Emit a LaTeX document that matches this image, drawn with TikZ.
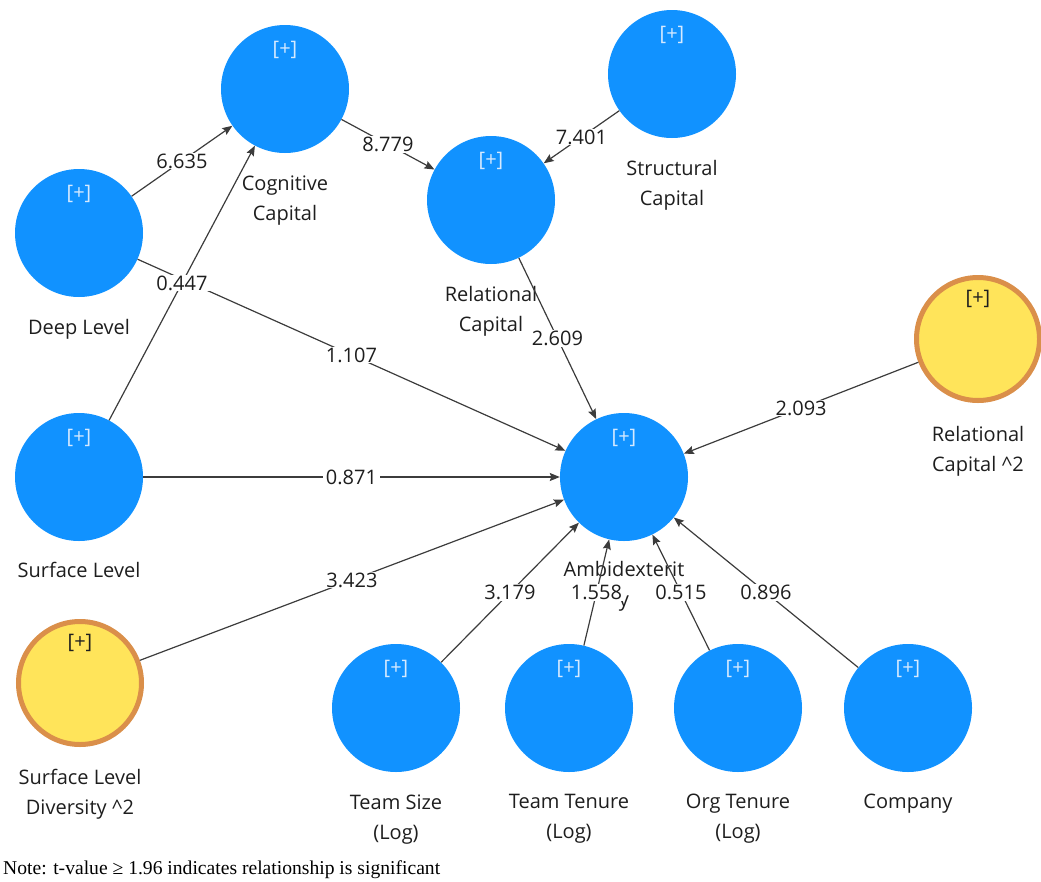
\documentclass[tikz,border=0pt]{standalone}
\usepackage{fontspec}
\setmainfont{Open Sans}
\newfontfamily\notefont{Liberation Serif}
\usetikzlibrary{arrows.meta}
\definecolor{pblue}{HTML}{1192FF}
\definecolor{pyellow}{HTML}{FFE45A}
\definecolor{porange}{HTML}{DA8F4A}
\definecolor{pline}{HTML}{3C3C3C}
\definecolor{ptext}{HTML}{1E1E1E}
\definecolor{pplus}{HTML}{D6EAFF}
\begin{document}
\begin{tikzpicture}[x=1pt,y=-1pt,
  plusb/.style={anchor=center, yshift=-25pt, text=pplus, inner sep=0pt, font=\fontsize{20}{20}\selectfont},
  plusy/.style={anchor=center, yshift=-24pt, text=ptext, inner sep=0pt, font=\fontsize{20}{20}\selectfont},
  lv/.style={circle, fill=pblue, inner sep=0pt, minimum size=128pt, label={[plusb]north:{[+]}}},
  sq/.style={circle, fill=pyellow, draw=porange, line width=5pt, inner sep=0pt, minimum size=123pt, label={[plusy]north:{[+]}}},
  nm/.style={anchor=north, align=center, inner sep=0pt, text=ptext, font=\fontsize{20}{30}\selectfont},
  edge/.style={draw=pline, line width=1.2pt, -{Stealth[length=10pt,width=8pt,inset=1.5pt]}},
  el/.style={fill=white, inner xsep=3pt, inner ysep=1pt, text=ptext, font=\fontsize{20}{20}\selectfont},
  note/.style={anchor=base west, inner sep=0pt, text=black, font=\notefont\fontsize{19.6}{19.6}\selectfont}
]
\useasboundingbox (0,0) rectangle (1041,881);

% constructs
\node[lv] (cog) at (285,89) {};
\node[lv] (str) at (672,74) {};
\node[lv] (rel) at (491,200) {};
\node[lv] (deep) at (79,233) {};
\node[lv] (surf) at (79,477) {};
\node[lv] (amb) at (624,477) {};
\node[sq] (rel2) at (978,339) {};
\node[sq] (sld2) at (80,683) {};
\node[lv] (tsize) at (396,708) {};
\node[lv] (tten) at (569,708) {};
\node[lv] (oten) at (738,708) {};
\node[lv] (comp) at (908,708) {};

% names
\node[nm] (cogl) at ([yshift=-22pt]cog.south) {Cognitive\\Capital};
\node[nm] (strl) at ([yshift=-22pt]str.south) {Structural\\Capital};
\node[nm] (rell) at ([yshift=-22pt]rel.south) {Relational\\Capital};
\node[nm] (deepl) at ([yshift=-22pt]deep.south) {Deep Level};
\node[nm] (surfl) at ([yshift=-21pt]surf.south) {Surface Level};
\node[nm] (ambl) at ([yshift=-20pt]amb.south) {Ambidexterit\\y};
\node[nm] (rel2l) at ([yshift=-23pt]rel2.south) {Relational\\Capital \textasciicircum 2};
\node[nm] (sld2l) at ([yshift=-22pt]sld2.south) {Surface Level\\Diversity \textasciicircum 2};
\node[nm] (tsizel) at ([yshift=-22pt]tsize.south) {Team Size\\(Log)};
\node[nm] (ttenl) at ([yshift=-22pt]tten.south) {Team Tenure\\(Log)};
\node[nm] (otenl) at ([yshift=-22pt]oten.south) {Org Tenure\\(Log)};
\node[nm] (compl) at ([yshift=-22pt]comp.south) {Company};

% paths
\draw[edge] (deep) -- node[el] {6.635} (cog);
\draw[edge] (deep) -- node[el] {1.107} (amb);
\draw[edge] (surf) -- node[el] {0.447} (cog);
\draw[edge] (cog) -- node[el] {8.779} (rel);
\draw[edge] (str) -- node[el] {7.401} (rel);
\draw[edge] (rel) -- node[el] {2.609} (amb);
\draw[edge] (surf) -- node[el] {0.871} (amb);
\draw[edge] (sld2) -- node[el] {3.423} (amb);
\draw[edge] (rel2) -- node[el] {2.093} (amb);
\draw[edge] (tsize) -- node[el] {3.179} (amb);
\draw[edge] (tten) -- node[el] {1.558} (amb);
\draw[edge] (oten) -- node[el] {0.515} (amb);
\draw[edge] (comp) -- node[el] {0.896} (amb);

\node[note] (nt) at (3,874) {Note: t-value ≥ 1.96 indicates relationship is significant};
\end{tikzpicture}
\end{document}
